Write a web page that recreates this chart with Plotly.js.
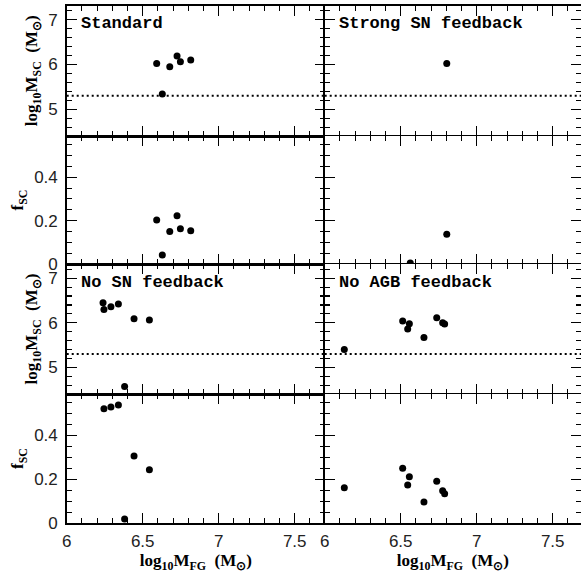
<!DOCTYPE html>
<html>
<head>
<meta charset="utf-8">
<script src="https://cdn.plot.ly/plotly-3.0.1.min.js"></script>
<style>html,body{margin:0;padding:0;background:#fff;}#chart{width:581px;height:578px;}</style>
</head>
<body>
<div id="chart"></div>
<script>
// ---- Data ----
const panelNames = ["Standard", "Strong SN feedback", "No SN feedback", "No AGB feedback"];

const stdMFG = [6.592, 6.629, 6.678, 6.726, 6.748, 6.816];
const stdMSC = [6.02, 5.34, 5.95, 6.19, 6.06, 6.10];
const stdFSC = [0.203, 0.042, 0.150, 0.222, 0.163, 0.153];

const strongMFG = [6.563, 6.803];
const strongMSC = [null, 6.02];
const strongFSC = [0.005, 0.137];

const noSNMFG = [6.239, 6.245, 6.291, 6.340, 6.381, 6.443, 6.544];
const noSNMSC = [6.45, 6.30, 6.36, 6.42, 4.57, 6.09, 6.06];
const noSNFSC = [null, 0.522, 0.531, 0.540, 0.018, 0.307, 0.244];

const noAGBMFG = [6.129, 6.513, 6.546, 6.557, 6.653, 6.737, 6.776, 6.789];
const noAGBMSC = [5.40, 6.04, 5.86, 5.98, 5.67, 6.11, 6.00, 5.97];
const noAGBFSC = [0.161, 0.250, 0.174, 0.212, 0.096, 0.191, 0.148, 0.134];

const thresholdMSC = 5.3;

const xTickVals = [6, 6.5, 7, 7.5];
const xTickText = ["6", "6.5", "7", "7.5"];
const mTickVals = [5, 6, 7];
const mTickText = ["5", "6", "7"];
const fTickVals = [0, 0.2, 0.4];
const fTickText = ["0", "0.2", "0.4"];

// ---- Layout geometry ----
const W = 581, H = 578;
const colPx = [[66.7, 325], [324.7, 581]];
const rowPx = [[5.5, 136], [136, 264], [264, 394], [394, 523]];
const pxPerX = 152;

const datasets = [
  {x: stdMFG, m: stdMSC, f: stdFSC},
  {x: strongMFG, m: strongMSC, f: strongFSC},
  {x: noSNMFG, m: noSNMSC, f: noSNFSC},
  {x: noAGBMFG, m: noAGBMSC, f: noAGBFSC}
];

const traces = [];
const layout = {
  width: W, height: H,
  margin: {l: 0, r: 0, t: 0, b: 0},
  paper_bgcolor: "#fff", plot_bgcolor: "#fff",
  showlegend: false,
  shapes: [], annotations: []
};

const tickFont = {family: "Liberation Sans, Arial, sans-serif", size: 17, color: "#222"};
const titleFont = {family: "Liberation Serif, Times New Roman, serif", size: 17, color: "#000", weight: "bold"};
const MSC_TITLE = "<b>log<sub>10</sub>M<sub>SC</sub>  (M<sub>⊙</sub>)</b>";
const FSC_TITLE = "<b>f<sub>SC</sub></b>";
const MFG_TITLE = "<b>log<sub>10</sub>M<sub>FG</sub>  (M<sub>⊙</sub>)</b>";

function axisBase() {
  return {
    showline: true, linecolor: "#000", linewidth: 1.5, mirror: "allticks",
    ticks: "inside", ticklen: 10, tickwidth: 1.3, tickcolor: "#000",
    showgrid: false, zeroline: false, fixedrange: true,
    tickfont: tickFont, ticklabelstandoff: 4
  };
}

for (let r = 0; r < 4; r++) {
  for (let c = 0; c < 2; c++) {
    const idx = r * 2 + c + 1;
    const ds = datasets[Math.floor(r / 2) * 2 + c];
    const isMass = (r % 2 === 0);
    const xa = idx === 1 ? "xaxis" : "xaxis" + idx;
    const ya = idx === 1 ? "yaxis" : "yaxis" + idx;
    const xr = idx === 1 ? "x" : "x" + idx;
    const yr = idx === 1 ? "y" : "y" + idx;
    const x0 = colPx[c][0], x1 = colPx[c][1];
    const y0 = rowPx[r][0], y1 = rowPx[r][1];

    traces.push({
      type: "scatter", mode: "markers",
      x: ds.x, y: isMass ? ds.m : ds.f,
      xaxis: xr, yaxis: yr,
      marker: {color: "#000", size: 7},
      cliponaxis: false, hoverinfo: "skip"
    });

    const xAxis = Object.assign(axisBase(), {
      domain: [x0 / W, x1 / W],
      range: [6, 6 + (x1 - x0) / pxPerX],
      tickvals: xTickVals, ticktext: xTickText,
      anchor: yr,
      minor: {dtick: 0.1, tick0: 6, ticks: "inside", ticklen: 5, tickwidth: 1.1, tickcolor: "#000"},
      showticklabels: r === 3
    });
    if (r === 3) {
      xAxis.ticklabelstandoff = 2;
      xAxis.title = {text: MFG_TITLE, font: titleFont, standoff: 4};
    }
    const yAxis = Object.assign(axisBase(), {
      domain: [1 - y1 / H, 1 - y0 / H],
      range: isMass ? [4.4, 7.32] : [0, 0.59],
      tickvals: isMass ? mTickVals : fTickVals,
      ticktext: isMass ? mTickText : fTickText,
      anchor: xr,
      minor: isMass
        ? {dtick: 0.2, tick0: 4, ticks: "inside", ticklen: 5, tickwidth: 1.1, tickcolor: "#000"}
        : {dtick: 0.05, tick0: 0, ticks: "inside", ticklen: 5, tickwidth: 1.1, tickcolor: "#000"},
      showticklabels: c === 0
    });
    if (c === 0) {
      yAxis.title = {text: isMass ? MSC_TITLE : FSC_TITLE, font: titleFont, standoff: 6};
    }
    layout[xa] = xAxis;
    layout[ya] = yAxis;

    if (isMass) {
      layout.shapes.push({
        type: "line", xref: xr + " domain", yref: yr,
        x0: 0, x1: 1, y0: thresholdMSC, y1: thresholdMSC,
        line: {color: "#000", width: 2, dash: "2px,3px"}
      });
      layout.annotations.push({
        text: "<b>" + panelNames[Math.floor(r / 2) * 2 + c] + "</b>",
        xref: "paper", yref: "paper",
        x: (x0 + 12.5) / W, y: 1 - (y0 + 18.5) / H,
        xanchor: "left", yanchor: "middle", showarrow: false,
        font: {family: "Liberation Mono, Courier New, monospace", size: 17, color: "#000"}
      });
    }
  }
}

Plotly.newPlot("chart", traces, layout, {staticPlot: true, displayModeBar: false});
</script>
</body>
</html>
